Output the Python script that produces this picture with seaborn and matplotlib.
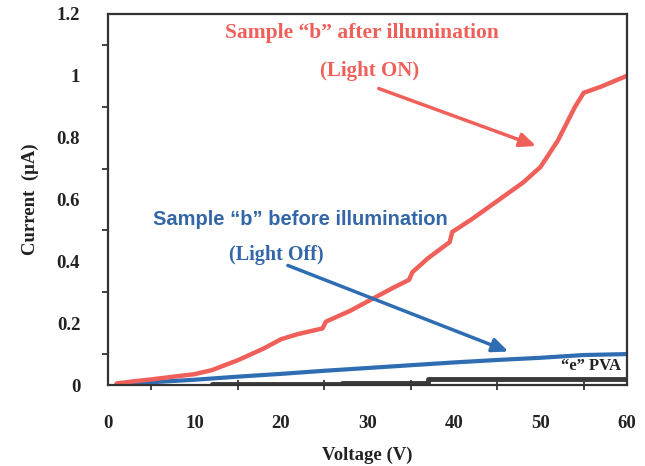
import matplotlib
matplotlib.use("Agg")
import matplotlib.pyplot as plt
from matplotlib.ticker import MultipleLocator
import seaborn as sns
import pandas as pd

# Data
volt_on = [1, 3, 5, 7, 10, 12, 15, 18, 20, 22, 24.8, 25.2, 28, 30, 33, 34.8, 35.2,
           37, 39.5, 39.8, 42, 45, 48, 50, 52, 54, 55, 57, 60]
curr_on = [0.005, 0.012, 0.018, 0.025, 0.035, 0.048, 0.08, 0.118, 0.148, 0.165, 0.183,
           0.205, 0.24, 0.27, 0.315, 0.34, 0.365, 0.41, 0.462, 0.495, 0.535, 0.595,
           0.655, 0.705, 0.79, 0.9, 0.945, 0.965, 1.0]

volt_off = [1, 5, 10, 15, 20, 25, 30, 35, 40, 45, 50, 55, 60]
curr_off = [0.004, 0.009, 0.017, 0.027, 0.036, 0.046, 0.055, 0.064, 0.073, 0.081, 0.088, 0.097, 0.1]

volt_pva = [12, 27, 27, 37, 37, 60]
curr_pva = [0.002, 0.002, 0.007, 0.007, 0.019, 0.019]

x_ticks = [0, 10, 20, 30, 40, 50, 60]
y_ticks = [0, 0.2, 0.4, 0.6, 0.8, 1.0, 1.2]
y_ticklabels = ["0", "0.2", "0.4", "0.6", "0.8", "1", "1.2"]

RED = "#f0605a"
BLUE = "#2f6db3"
BLUE_TXT = "#3467a8"
DARK = "#3a3a3a"

sns.set_theme(style="white")
plt.rcParams["font.family"] = ["Liberation Serif", "DejaVu Serif"]

fig = plt.figure(figsize=(6.45, 4.66), dpi=100)
ax = fig.add_axes([0.1674, 0.1738, 0.8046, 0.7962])

df_on = pd.DataFrame({"V": volt_on, "I": curr_on})
df_off = pd.DataFrame({"V": volt_off, "I": curr_off})
df_pva = pd.DataFrame({"V": volt_pva, "I": curr_pva})

sns.lineplot(data=df_pva, x="V", y="I", ax=ax, color=DARK, lw=3.5, sort=False, estimator=None)
sns.lineplot(data=df_off, x="V", y="I", ax=ax, color=BLUE, lw=3, sort=False, estimator=None)
sns.lineplot(data=df_on, x="V", y="I", ax=ax, color=RED, lw=3.2, sort=False, estimator=None)

ax.set_xlim(0, 60)
ax.set_ylim(0, 1.2)
ax.set_xticks(x_ticks)
ax.set_yticks(y_ticks)
ax.set_yticklabels(y_ticklabels)
ax.xaxis.set_minor_locator(MultipleLocator(5))
ax.yaxis.set_minor_locator(MultipleLocator(0.1))
ax.tick_params(axis="x", which="major", direction="inout", length=9, width=1.5, color="#222222", pad=17)
ax.tick_params(axis="x", which="minor", direction="inout", length=7, width=1.2, color="#222222", bottom=True)
ax.tick_params(axis="y", which="major", direction="out", length=8, width=1.5, color="#222222", pad=12)
ax.tick_params(axis="y", which="minor", direction="out", length=4, width=1.2, color="#222222", left=True)
for lab in ax.get_xticklabels() + ax.get_yticklabels():
    lab.set_fontweight("bold")
    lab.set_fontsize(13.5)
    lab.set_color("#222222")

for s in ax.spines.values():
    s.set_visible(True)
    s.set_color("#333333")
    s.set_linewidth(1.6)

ax.set_xlabel("Voltage (V)", fontsize=13.5, fontweight="bold", color="#222222", labelpad=11)
ax.set_ylabel("Current  (\u03bcA)", fontsize=13.5, fontweight="bold", color="#222222", labelpad=13)

# Annotations
ax.text(29.4, 1.137, "Sample \u201cb\u201d after illumination", color=RED, fontsize=15.5,
        fontweight="bold", ha="center", va="center")
ax.text(30.3, 1.015, "(Light ON)", color=RED, fontsize=15, fontweight="bold",
        ha="center", va="center")
ax.annotate("", xy=(49.8, 0.77), xytext=(31.0, 0.962),
            arrowprops=dict(arrowstyle="-|>,head_length=0.8,head_width=0.35", color=RED, lw=2.5))

ax.text(22.3, 0.535, "Sample \u201cb\u201d before illumination", color=BLUE_TXT, fontsize=14.5,
        fontweight="bold", ha="center", va="center", family=["Liberation Sans", "DejaVu Sans"])
ax.text(19.5, 0.42, "(Light Off)", color=BLUE_TXT, fontsize=14.5, fontweight="bold",
        ha="center", va="center")
ax.annotate("", xy=(46.6, 0.105), xytext=(20.5, 0.39),
            arrowprops=dict(arrowstyle="-|>,head_length=0.8,head_width=0.35", color=BLUE, lw=2.5))

ax.text(55.8, 0.062, "\u201ce\u201d PVA", color="#222222", fontsize=12, fontweight="bold",
        ha="center", va="center")

fig.savefig("out.png", dpi=100)
